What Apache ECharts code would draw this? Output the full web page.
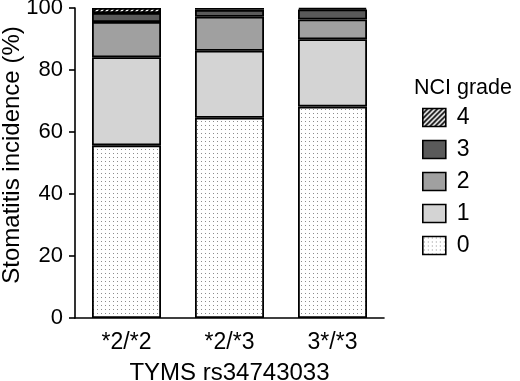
<!DOCTYPE html>
<html><head><meta charset="utf-8">
<script src="https://cdn.jsdelivr.net/npm/echarts@6/dist/echarts.min.js"></script>
<style>html,body{margin:0;padding:0;background:#fff}#c{width:520px;height:381px}</style>
</head><body><div id="c"></div>
<script>
const categories = ['*2/*2', '*2/*3', '3*/*3'];
const grade0 = [55.7, 64.6, 68.2];
const grade1 = [28.4, 21.6, 21.7];
const grade2 = [11.4, 11.0, 6.4];
const grade3 = [2.9, 2.2, 3.2];
const grade4 = [1.6, 0.6, 0.5];
const yTicks = [0, 20, 40, 60, 80, 100];

function dotPattern() {
  const c = document.createElement('canvas'); c.width = 4; c.height = 4;
  const g = c.getContext('2d');
  g.fillStyle = '#fff'; g.fillRect(0, 0, 4, 4);
  g.fillStyle = '#8c8c8c'; g.fillRect(1, 1, 1, 1);
  return c;
}
function hatchPattern() {
  const s = 5;
  const c = document.createElement('canvas'); c.width = s; c.height = s;
  const g = c.getContext('2d');
  g.fillStyle = '#fff'; g.fillRect(0, 0, s, s);
  g.strokeStyle = '#000'; g.lineWidth = 1.8;
  g.beginPath();
  g.moveTo(-1, s + 1); g.lineTo(s + 1, -1);
  g.moveTo(-1, 1); g.lineTo(1, -1);
  g.moveTo(s - 1, s + 1); g.lineTo(s + 1, s - 1);
  g.stroke();
  return c;
}

const fills = [
  { image: dotPattern(), repeat: 'repeat' },
  '#d4d4d4',
  '#a0a0a0',
  '#5a5a5a',
  { image: hatchPattern(), repeat: 'repeat' }
];
const datasets = [grade0, grade1, grade2, grade3, grade4];
const names = ['0', '1', '2', '3', '4'];
const font = 'Liberation Sans';

const chart = echarts.init(document.getElementById('c'), null, { renderer: 'canvas' });
chart.setOption({
  animation: false,
  backgroundColor: '#fff',
  textStyle: { fontFamily: font },
  title: {
    text: 'NCI grade', left: 414, top: 77, padding: 0,
    textStyle: { fontFamily: font, fontSize: 21.5, fontWeight: 'normal', color: '#000' }
  },
  legend: {
    orient: 'vertical', left: 422, top: 106, padding: 0,
    data: ['4', '3', '2', '1', '0'],
    itemWidth: 23, itemHeight: 18, itemGap: 9,
    icon: 'rect',
    textStyle: { fontFamily: font, fontSize: 23, color: '#000', padding: [0, 0, 0, 6] },
    itemStyle: { borderColor: '#000', borderWidth: 1.6 }
  },
  grid: { left: 75, right: 136, top: 8, bottom: 63, outerBoundsMode: 'none', containLabel: false },
  xAxis: {
    type: 'category', data: categories,
    name: 'TYMS rs34743033', nameLocation: 'middle', nameGap: 43, nameMoveOverlap: false,
    nameTextStyle: { fontFamily: font, fontSize: 24, color: '#000' },
    axisLine: { lineStyle: { color: '#000', width: 1.6 } },
    axisTick: { alignWithLabel: true, length: 6, lineStyle: { color: '#000', width: 1.6 } },
    axisLabel: { fontFamily: font, fontSize: 23, color: '#000', margin: 13 }
  },
  yAxis: {
    type: 'value', min: yTicks[0], max: yTicks[yTicks.length - 1], interval: 20,
    name: 'Stomatitis incidence (%)', nameLocation: 'middle', nameGap: 51, nameMoveOverlap: false,
    nameTextStyle: { fontFamily: font, fontSize: 24, color: '#000', padding: [0, 0, 0, 16] },
    axisLine: { show: true, lineStyle: { color: '#000', width: 1.6 } },
    axisTick: { show: true, length: 6, lineStyle: { color: '#000', width: 1.6 } },
    axisLabel: { fontFamily: font, fontSize: 22, color: '#000', margin: 12 },
    splitLine: { show: false }
  },
  series: datasets.map((d, i) => ({
    name: names[i], type: 'bar', stack: 'all', data: d, barWidth: 69,
    itemStyle: { color: fills[i], borderColor: '#000', borderWidth: 1.8 }
  }))
});
</script></body></html>
